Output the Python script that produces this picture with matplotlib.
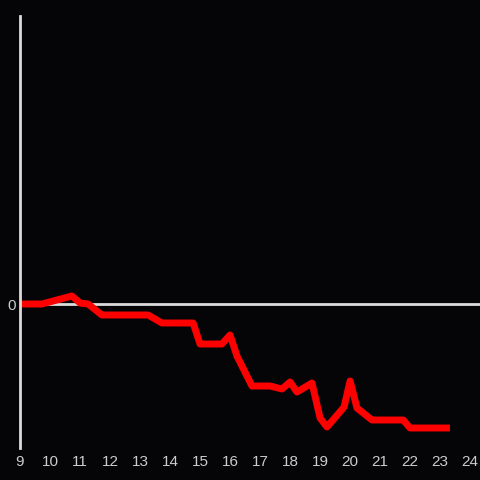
import matplotlib
matplotlib.use("Agg")
import matplotlib.pyplot as plt

hours = [9.0, 9.73, 10.73, 11.0, 11.27, 11.73, 13.27, 13.73, 14.77, 15.0,
         15.73, 16.0, 16.23, 16.73, 17.33, 17.73, 18.0, 18.23, 18.73, 19.0,
         19.23, 19.8, 20.0, 20.23, 20.73, 21.77, 22.0, 23.33]
values = [0, 0, 8, 1, 0, -11, -11, -19, -19, -40,
          -40, -31, -52, -82, -82, -85, -78, -88, -79, -114,
          -123, -103, -77, -104, -116, -116, -124, -124]
xticks = list(range(9, 25))

plt.rcParams["font.family"] = ["Liberation Sans", "DejaVu Sans"]

bg = "#050407"
fig = plt.figure(figsize=(4.8, 4.8), dpi=100, facecolor=bg)
ax = fig.add_axes([20 / 480, 32 / 480, 460 / 480, 432 / 480], facecolor=bg)

ax.axhline(0, color="#dcdcdc", linewidth=2, zorder=1)
ax.plot(hours, values, color="#ff0000", linewidth=5,
        solid_joinstyle="round", solid_capstyle="butt", zorder=2)

ax.set_xlim(9, 24.33)
ax.set_ylim(-144, 288)
ax.set_xticks(xticks)
ax.set_yticks([0])

for side in ["top", "right", "bottom"]:
    ax.spines[side].set_visible(False)
ax.spines["left"].set_color("#dcdcdc")
ax.spines["left"].set_linewidth(2)

ax.tick_params(axis="both", length=0, colors="#cccccc", labelsize=11)
ax.tick_params(axis="x", pad=5)
ax.tick_params(axis="y", pad=3)

fig.savefig("out.png", dpi=100, facecolor=bg)
